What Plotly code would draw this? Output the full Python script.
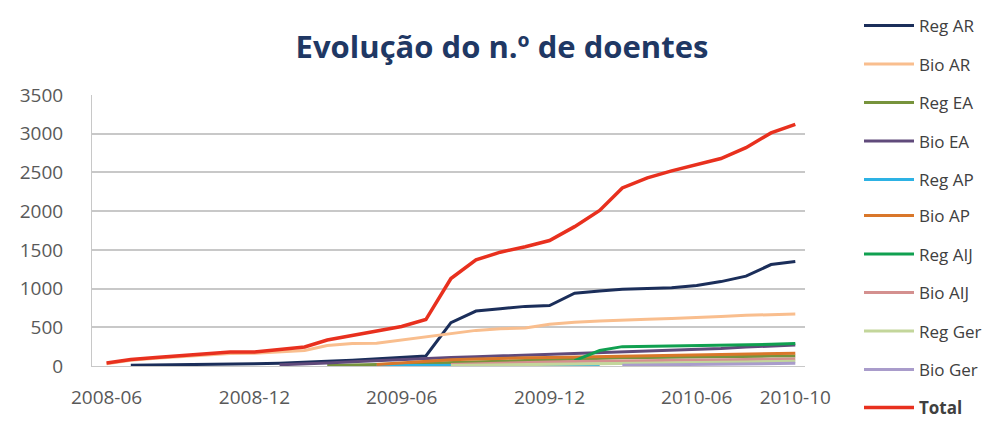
import plotly.graph_objects as go

months = ["2008-06", "2008-07", "2008-08", "2008-09", "2008-10", "2008-11", "2008-12",
          "2009-01", "2009-02", "2009-03", "2009-04", "2009-05", "2009-06", "2009-07",
          "2009-08", "2009-09", "2009-10", "2009-11", "2009-12", "2010-01", "2010-02",
          "2010-03", "2010-04", "2010-05", "2010-06", "2010-07", "2010-08", "2010-09",
          "2010-10"]
N = None
reg_ar = [N, 10, 12, 15, 18, 22, 28, 35, 45, 60, 75, 90, 110, 130, 560, 710, 740, 770, 780,
          940, 970, 990, 1000, 1010, 1040, 1090, 1160, 1310, 1350]
bio_ar = [30, 75, 100, 120, 140, 160, 165, 185, 200, 265, 290, 295, 335, 375, 420, 460, 480,
          490, 540, 565, 580, 595, 605, 615, 625, 640, 655, 665, 670]
reg_ea = [N, N, N, N, N, N, N, N, N, 8, 12, 18, 25, 35, 45, 55, 65, 75, 85, 95, 100, 105,
          110, 115, 120, 122, 125, 128, 130]
bio_ea = [N, N, N, N, N, N, N, 15, 25, 40, 55, 70, 85, 100, 110, 120, 130, 140, 150, 160,
          170, 180, 190, 200, 210, 225, 245, 260, 270]
reg_ap = [N, N, N, N, N, N, N, N, N, N, N, 3, 5, 7, 9, 11, 13, 15, 17, 19, 20, N, N, N, N,
          N, N, N, N]
bio_ap = [N, N, N, N, N, N, N, N, N, N, N, 20, 40, 60, 80, 90, 100, 105, 110, 115, 120, 125,
          130, 135, 140, 145, 150, 160, 165]
reg_aij = [N, N, N, N, N, N, N, N, N, N, N, N, N, N, N, N, N, N, N, 70, 200, 250, 255, 258,
           262, 265, 270, 280, 290]
bio_aij = [N, N, N, N, N, N, N, N, N, N, N, N, N, N, 20, 30, 38, 45, 52, 58, 63, 68, 72, 75,
           78, 81, 84, 87, 90]
reg_ger = [N, N, N, N, N, N, N, N, N, N, N, N, N, N, 5, 10, 15, 20, 25, 30, 35, 38, 41, 44,
           47, 50, 53, 56, 60]
bio_ger = [N, N, N, N, N, N, N, N, N, N, N, N, N, N, N, N, N, N, N, N, N, 10, 14, 18, 22,
           25, 28, 32, 35]
total = [40, 85, 110, 130, 150, 180, 180, 215, 245, 335, 395, 445, 510, 600, 1130, 1370, 1470,
         1540, 1620, 1800, 2010, 2300, 2430, 2520, 2600, 2680, 2820, 3010, 3120]

tick_labels = ["2008-06", "2008-12", "2009-06", "2009-12", "2010-06", "2010-10"]

series = [
    ("Reg AR", reg_ar, "#1B2E5A", 3, "legend"),
    ("Bio AR", bio_ar, "#F9BE8E", 3, "legend"),
    ("Reg EA", reg_ea, "#77933C", 3, "legend"),
    ("Bio EA", bio_ea, "#604A7B", 3, "legend"),
    ("Reg AP", reg_ap, "#2DB2E4", 3, "legend"),
    ("Bio AP", bio_ap, "#D9772A", 3, "legend2"),
    ("Reg AIJ", reg_aij, "#10A050", 3, "legend2"),
    ("Bio AIJ", bio_aij, "#D4908F", 3, "legend2"),
    ("Reg Ger", reg_ger, "#C3D69B", 3, "legend2"),
    ("Bio Ger", bio_ger, "#A99CCB", 3, "legend2"),
    ("<b>Total</b>", total, "#E8301E", 3.5, "legend3"),
]

x_dates = [m + "-01" for m in months]

fig = go.Figure()
for i, (name, vals, color, w, leg) in enumerate(series):
    fig.add_trace(go.Scatter(
        x=x_dates, y=vals, name=name, mode="lines",
        line=dict(color=color, width=w),
        legendgroup="g%d" % i, legend=leg,
        connectgaps=False,
    ))

# The page body adds an 8px offset, so the figure is 8px smaller on each axis.
W, H = 982, 419

leg_common = dict(xref="container", yref="container", x=851 / W, xanchor="left",
                  yanchor="top", font=dict(size=17, color="#404040"),
                  tracegroupgap=13.4, itemwidth=50, traceorder="grouped",
                  bgcolor="rgba(0,0,0,0)")

fig.update_layout(
    width=W, height=H,
    margin=dict(l=72, r=185, t=87, b=61),
    paper_bgcolor="white", plot_bgcolor="white",
    font=dict(family="Open Sans, DejaVu Sans, sans-serif", color="#404040"),
    title=dict(text="<b>Evolução do n.º de doentes</b>",
               x=494 / W, xref="container", xanchor="center",
               y=1 - 39 / H, yref="container", yanchor="middle",
               font=dict(size=31, color="#1F3864")),
    showlegend=True,
    legend=dict(y=1 + 7 / H, **leg_common),
    legend2=dict(y=1 - 190 / H, **leg_common),
    legend3=dict(y=1 - 382 / H, **leg_common),
    xaxis=dict(
        type="date",
        range=["2008-05-14", "2010-10-13"],
        tickvals=[t + "-01" for t in tick_labels],
        ticktext=tick_labels,
        showgrid=False, showline=True, linecolor="#C8C8C8", linewidth=1,
        ticks="", ticklabelstandoff=14, tickfont=dict(size=19, color="#595959"),
    ),
    yaxis=dict(
        range=[0, 3500], dtick=500, tick0=0,
        showgrid=True, gridcolor="#C8C8C8", gridwidth=1.5,
        showline=True, linecolor="#C8C8C8", linewidth=1,
        zeroline=False, ticks="", ticklabelstandoff=24,
        tickfont=dict(size=19, color="#595959"),
    ),
)

fig.write_html("out.html")
